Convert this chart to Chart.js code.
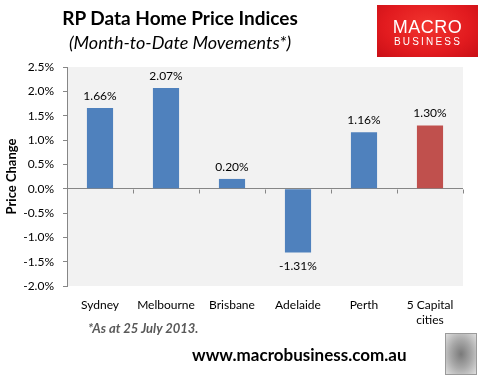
<!DOCTYPE html>
<html>
<head>
<meta charset="utf-8">
<script src="https://cdn.jsdelivr.net/npm/chart.js@4.4.1/dist/chart.umd.min.js"></script>
<style>
  html, body { margin: 0; padding: 0; background: #fff; }
  #wrap { position: relative; width: 486px; height: 376px; overflow: hidden; font-family: Lato, "Open Sans", sans-serif; }
  #chart { position: absolute; left: 0; top: 0; }
  .title { position: absolute; left: 0; width: 360px; text-align: center; color: #000; white-space: nowrap; }
  #t1 { top: 6px; font-size: 19px; font-weight: bold; }
  #t2 { top: 31px; font-size: 18px; font-style: italic; }
  #logo { position: absolute; left: 377px; top: 5px; width: 101px; height: 52px;
    background: radial-gradient(ellipse at 50% 40%, #f2352f 0%, #e21b1f 60%, #c90f16 100%);
    color: #fff; text-align: center; font-family: "Liberation Sans", Arial, sans-serif; }
  #logo .m { position: absolute; left: 0; right: 0; top: 13px; font-size: 18px; letter-spacing: 0.5px; line-height: 1; }
  #logo .b { position: absolute; left: 1px; right: 0; top: 32px; font-size: 10px; letter-spacing: 2.2px; line-height: 1; }
  #note { position: absolute; left: 88px; top: 320px; font-size: 13px; font-weight: bold; font-style: italic; color: #595959; }
  #url { position: absolute; left: 192px; top: 344px; font-size: 17px; font-weight: bold; color: #000; }
  #wolf { position: absolute; left: 445px; top: 333px; width: 30px; height: 40px; border: 1px solid #9a9a9a;
    background: radial-gradient(ellipse at 50% 50%, #7a7a7a 0%, #a8a8a8 50%, #dedede 100%); }
</style>
</head>
<body>
<div id="wrap">
  <canvas id="chart" width="486" height="376"></canvas>
  <div class="title" id="t1">RP Data Home Price Indices</div>
  <div class="title" id="t2">(Month-to-Date Movements*)</div>
  <div id="logo"><div class="m">MACRO</div><div class="b">BUSINESS</div></div>
  <div id="note">*As at 25 July 2013.</div>
  <div id="url">www.macrobusiness.com.au</div>
  <div id="wolf"></div>
</div>
<script>
const categories = ["Sydney", "Melbourne", "Brisbane", "Adelaide", "Perth", ["5 Capital", "cities"]];
const priceChange = [1.66, 2.07, 0.20, -1.31, 1.16, 1.30];
const barColors = ["#4f81bd", "#4f81bd", "#4f81bd", "#4f81bd", "#4f81bd", "#c0504d"];
const yMin = -2.0;
const yMax = 2.5;
const yStep = 0.5;

const axisGray = "#868686";

// plot area background, like the Excel chart's light gray plot area
const plotBg = {
  id: "plotBg",
  beforeDraw(chart) {
    const a = chart.chartArea;
    const ctx = chart.ctx;
    ctx.save();
    ctx.fillStyle = "#f2f2f2";
    ctx.fillRect(a.left, a.top, a.right - a.left, a.bottom - a.top);
    ctx.restore();
  },
};

// category tick marks hang down from the zero line
const zeroTicks = {
  id: "zeroTicks",
  afterDatasetsDraw(chart) {
    const x = chart.scales.x;
    const y0 = Math.round(chart.scales.y.getPixelForValue(0)) + 0.5;
    const ctx = chart.ctx;
    const n = categories.length;
    ctx.save();
    ctx.strokeStyle = axisGray;
    ctx.lineWidth = 1;
    ctx.beginPath();
    for (let i = 0; i <= n; i++) {
      const px = Math.round(x.left + (i * (x.right - x.left)) / n) + 0.5;
      ctx.moveTo(px, y0);
      ctx.lineTo(px, y0 + 4);
    }
    ctx.stroke();
    ctx.restore();
  },
};

const valueLabels = {
  id: "valueLabels",
  afterDatasetsDraw(chart) {
    const ctx = chart.ctx;
    const meta = chart.getDatasetMeta(0);
    ctx.save();
    ctx.font = "12px Lato, 'Open Sans', sans-serif";
    ctx.fillStyle = "#000";
    ctx.textAlign = "center";
    meta.data.forEach((bar, i) => {
      const v = priceChange[i];
      const txt = v.toFixed(2) + "%";
      if (v >= 0) {
        ctx.textBaseline = "bottom";
        ctx.fillText(txt, bar.x, bar.y - 6);
      } else {
        ctx.textBaseline = "top";
        ctx.fillText(txt, bar.x, bar.y + 8);
      }
    });
    ctx.restore();
  },
};

new Chart(document.getElementById("chart"), {
  type: "bar",
  data: {
    labels: categories,
    datasets: [{
      data: priceChange,
      backgroundColor: barColors,
      barPercentage: 0.66,
      categoryPercentage: 0.6,
    }],
  },
  options: {
    responsive: false,
    animation: false,
    layout: { padding: { top: 67, right: 23, bottom: 0, left: 0 } },
    plugins: { legend: { display: false }, tooltip: { enabled: false } },
    scales: {
      x: {
        grid: { display: false },
        border: { display: false },
        ticks: { color: "#000", font: { family: "Lato, 'Open Sans', sans-serif", size: 12, lineHeight: 1.3 }, padding: 3, maxRotation: 0, autoSkip: false },
        afterFit(scale) { scale.height = 90; },
      },
      y: {
        min: yMin,
        max: yMax,
        border: { display: true, color: axisGray },
        grid: {
          color: (c) => (c.tick && c.tick.value === 0 ? axisGray : "transparent"),
          tickColor: axisGray,
          tickLength: 4,
        },
        ticks: {
          stepSize: yStep,
          color: "#000",
          padding: 9,
          font: { family: "Lato, 'Open Sans', sans-serif", size: 12 },
          callback: (v) => v.toFixed(1) + "%",
        },
        title: {
          display: true,
          text: "Price Change",
          color: "#000",
          font: { family: "Lato, 'Open Sans', sans-serif", size: 13, weight: "bold" },
          padding: { top: 4, bottom: 0 },
        },
        afterFit(scale) { scale.width = 67; },
      },
    },
  },
  plugins: [plotBg, zeroTicks, valueLabels],
});
</script>
</body>
</html>
